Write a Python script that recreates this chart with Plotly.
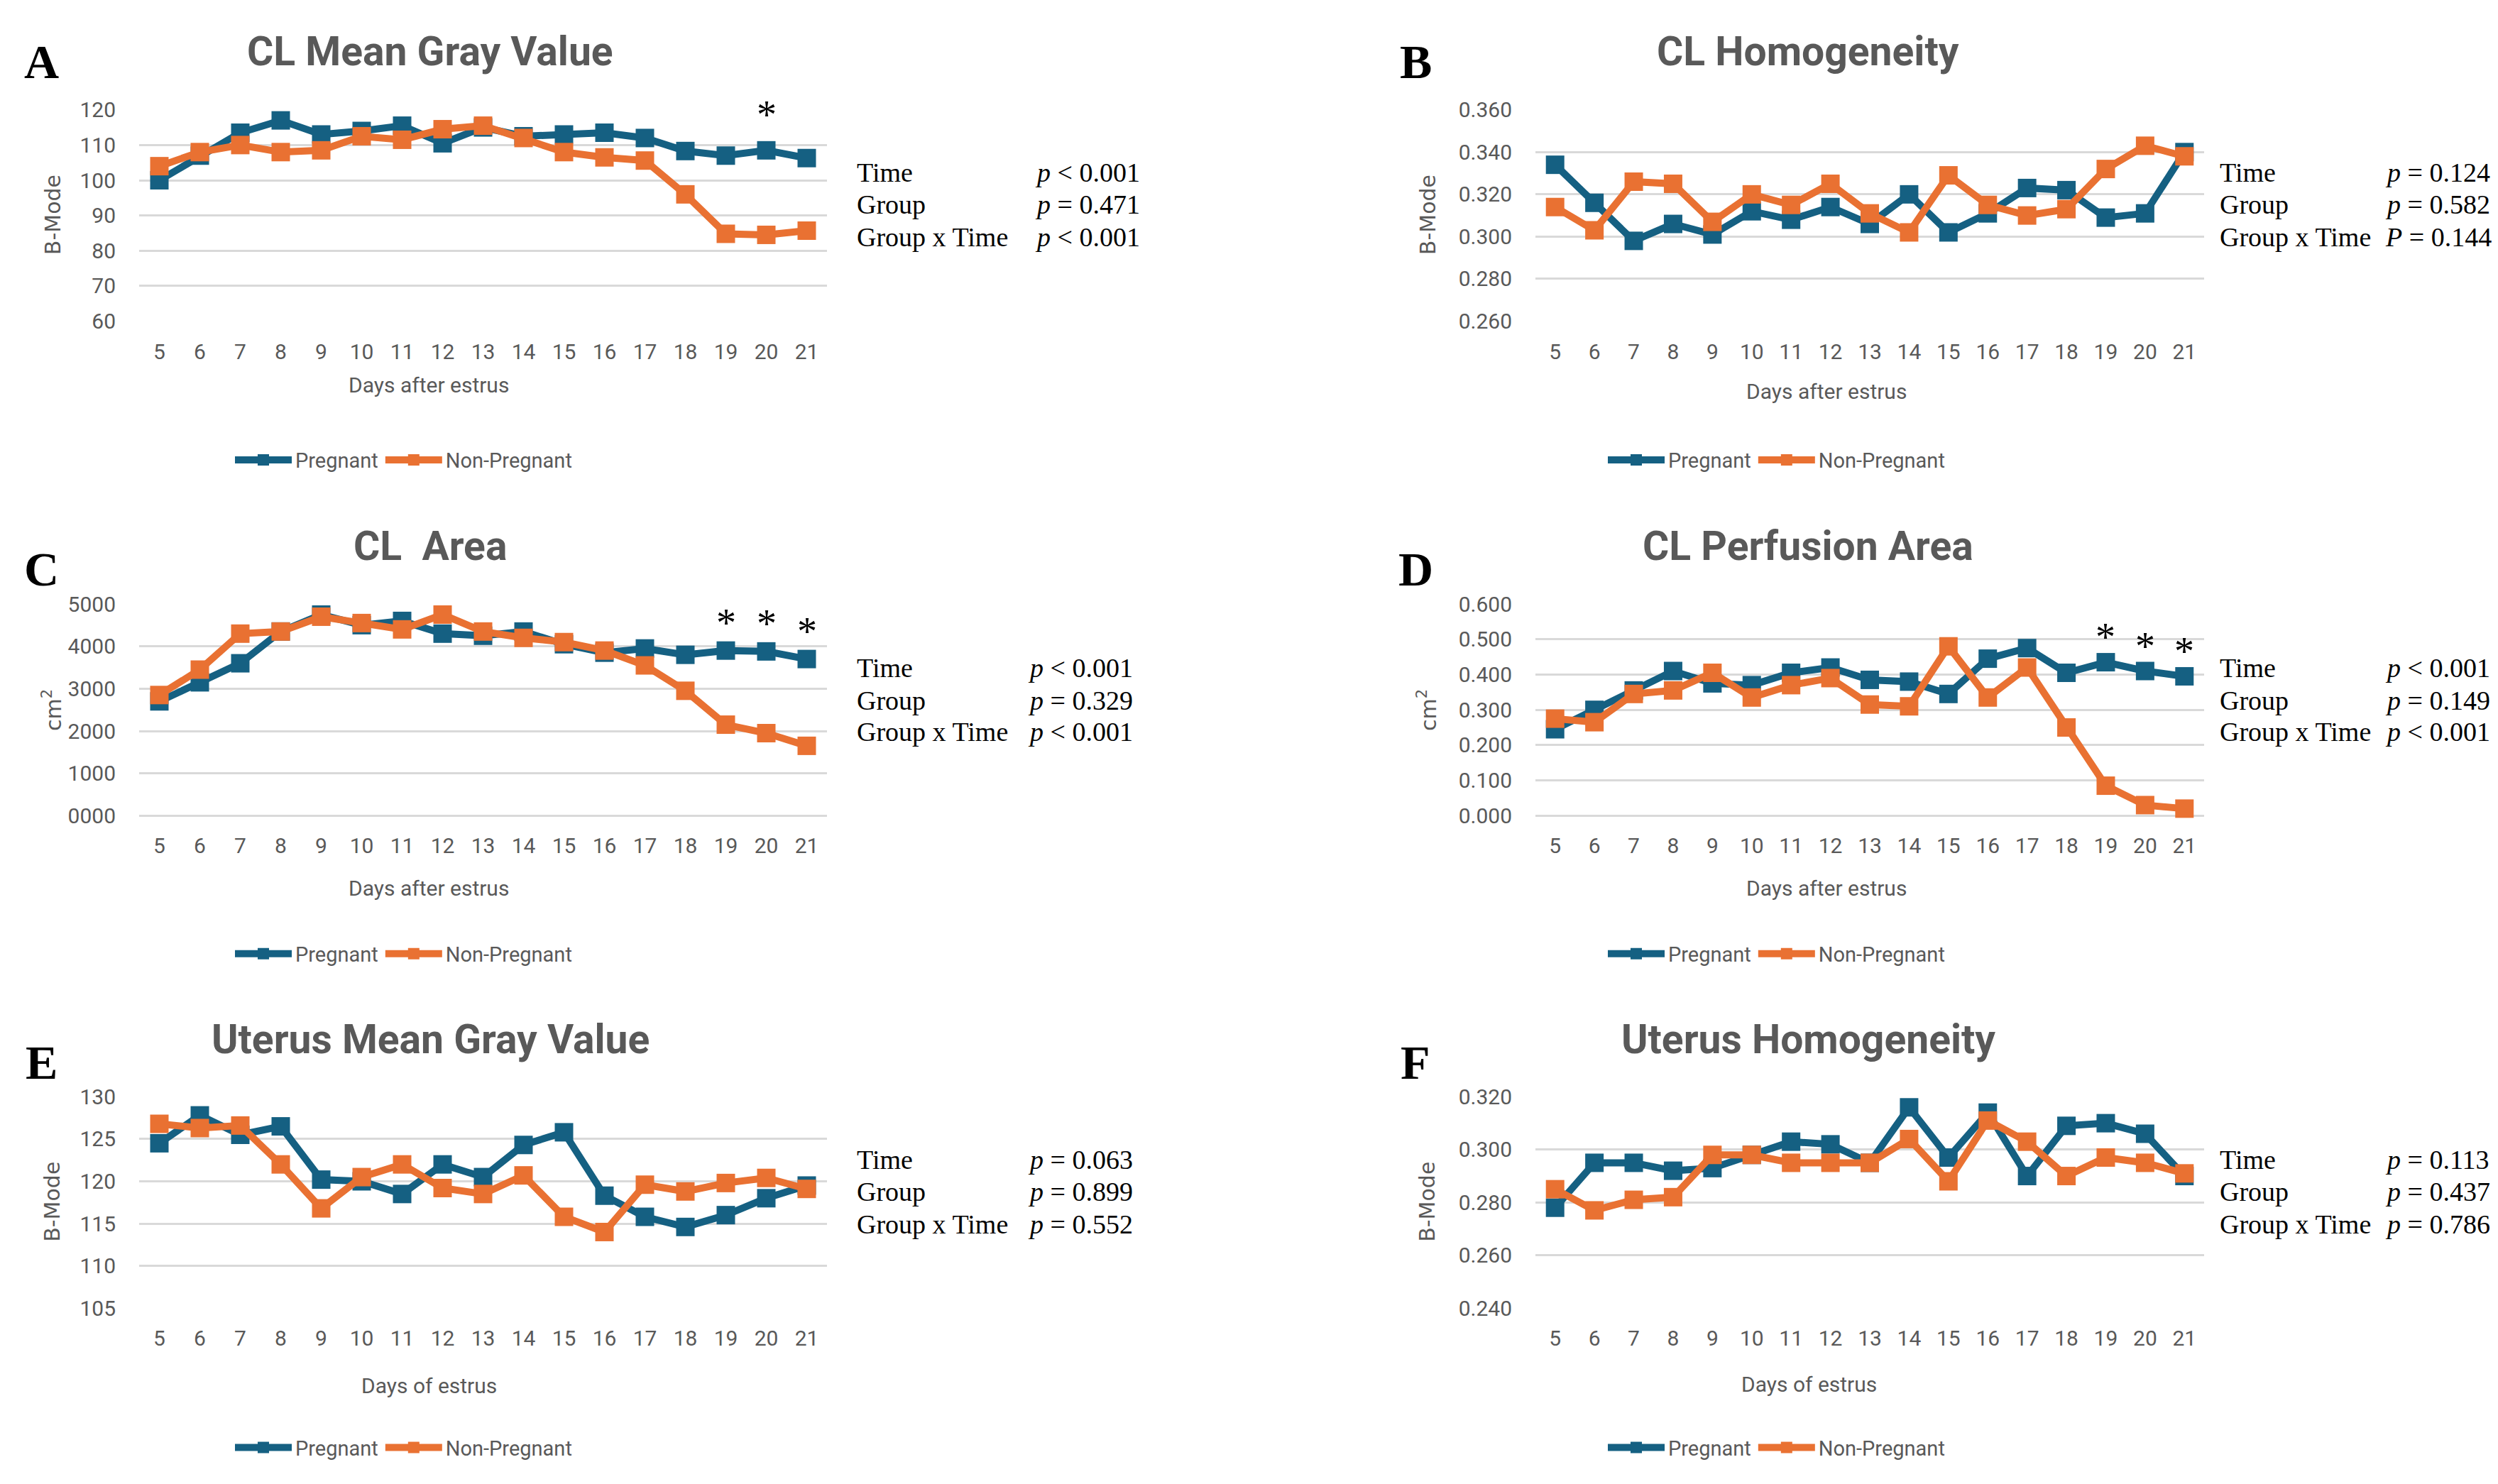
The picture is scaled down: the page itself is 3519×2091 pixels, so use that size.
import plotly.graph_objects as go

W, H = 3519, 2091

# ---------------- data ----------------
days = list(range(5, 22))
day_labels = [str(d) for d in days]

series_names = ["Pregnant", "Non-Pregnant"]

a_preg = [100.0, 107.0, 113.5, 117.0, 113.0, 114.0, 115.5, 110.5, 115.0, 112.5, 113.0, 113.5, 112.0, 108.3, 107.0, 108.5, 106.3]
a_nonp = [104.0, 108.0, 110.0, 108.0, 108.5, 112.5, 111.5, 114.5, 115.5, 112.0, 108.0, 106.5, 105.6, 96.0, 84.8, 84.5, 85.7]

b_preg = [0.334, 0.316, 0.298, 0.306, 0.301, 0.312, 0.308, 0.314, 0.306, 0.320, 0.302, 0.311, 0.323, 0.322, 0.309, 0.311, 0.340]
b_nonp = [0.314, 0.303, 0.326, 0.325, 0.307, 0.320, 0.315, 0.325, 0.311, 0.302, 0.329, 0.315, 0.310, 0.313, 0.332, 0.343, 0.338]

c_preg = [2700, 3150, 3600, 4350, 4750, 4500, 4600, 4300, 4250, 4350, 4050, 3850, 3950, 3800, 3900, 3880, 3700]
c_nonp = [2850, 3450, 4300, 4350, 4700, 4550, 4400, 4750, 4350, 4200, 4100, 3900, 3550, 2950, 2150, 1950, 1650]

d_preg = [0.245, 0.300, 0.355, 0.410, 0.375, 0.370, 0.405, 0.420, 0.385, 0.380, 0.345, 0.445, 0.475, 0.405, 0.435, 0.410, 0.395]
d_nonp = [0.275, 0.265, 0.345, 0.355, 0.405, 0.335, 0.370, 0.390, 0.315, 0.310, 0.480, 0.335, 0.420, 0.250, 0.085, 0.030, 0.020]

e_preg = [124.5, 127.8, 125.5, 126.5, 120.2, 120.0, 118.5, 122.0, 120.5, 124.3, 125.8, 118.3, 115.8, 114.6, 116.0, 118.0, 119.5]
e_nonp = [126.8, 126.3, 126.6, 122.0, 116.8, 120.5, 122.0, 119.2, 118.5, 120.7, 115.8, 114.0, 119.6, 118.8, 119.8, 120.4, 119.1]

f_preg = [0.278, 0.295, 0.295, 0.292, 0.293, 0.298, 0.303, 0.302, 0.295, 0.316, 0.297, 0.314, 0.290, 0.309, 0.310, 0.306, 0.290]
f_nonp = [0.285, 0.277, 0.281, 0.282, 0.298, 0.298, 0.295, 0.295, 0.295, 0.304, 0.288, 0.311, 0.303, 0.290, 0.297, 0.295, 0.291]

titles = ["CL Mean Gray Value", "CL Homogeneity", "CL  Area",
          "CL Perfusion Area", "Uterus Mean Gray Value", "Uterus Homogeneity"]
letters = ["A", "B", "C", "D", "E", "F"]
y_titles = ["B-Mode", "B-Mode", "cm<sup>2</sup>", "cm<sup>2</sup>", "B-Mode", "B-Mode"]
x_titles = ["Days after estrus", "Days after estrus", "Days after estrus",
            "Days after estrus", "Days of estrus", "Days of estrus"]
stat_labels = ["Time", "Group", "Group x Time"]
stat_values = [
    ["<i>p</i> < 0.001", "<i>p</i> = 0.471", "<i>p</i> < 0.001"],
    ["<i>p</i> = 0.124", "<i>p</i> = 0.582", "<i>P</i> = 0.144"],
    ["<i>p</i> < 0.001", "<i>p</i> = 0.329", "<i>p</i> < 0.001"],
    ["<i>p</i> < 0.001", "<i>p</i> = 0.149", "<i>p</i> < 0.001"],
    ["<i>p</i> = 0.063", "<i>p</i> = 0.899", "<i>p</i> = 0.552"],
    ["<i>p</i> = 0.113", "<i>p</i> = 0.437", "<i>p</i> = 0.786"],
]
# significant days (asterisks) per panel
sig_days = [[20], [], [19, 20, 21], [19, 20, 21], [], []]

y_ranges = [[60, 120], [0.26, 0.36], [0, 5000], [0, 0.6], [105, 130], [0.24, 0.32]]
y_dticks = [10, 0.02, 1000, 0.1, 5, 0.02]
y_formats = ["d", ".3f", "04d", ".3f", "d", ".3f"]

preg_data = [a_preg, b_preg, c_preg, d_preg, e_preg, f_preg]
nonp_data = [a_nonp, b_nonp, c_nonp, d_nonp, e_nonp, f_nonp]

# ---------------- style / layout ----------------
BLUE = "#156082"
ORANGE = "#E97132"
GRAY_TXT = "#595959"
GRID = "#D9D9D9"
SANS = "Roboto, Arial, sans-serif"
SERIF = "Liberation Serif, Times New Roman, serif"


def px_x(p):
    return p / W


def px_y(p):
    return 1 - p / H


col_plot = [(188, 1157), (2155, 3097)]
row_plot = [(131, 434), (839.5, 1143), (1546, 1849)]
col_letter_x = [50, 1986]
row_letter_y = [62, 790, 1497]
col_title_x = [598, 2539]
row_title_y = [47, 757, 1464]
col_ytitle_x = [66, 2003]
row_ytitle_y = [282, 992, 1697]
col_xtitle_x = [596, 2565]
row_xtitle_y = [[526, 535], [1247, 1247], [1960, 1958]]
col_stat_lx = [1197, 3117]
col_stat_px = [[1448, 3350], [1438, 3350], [1438, 3350]]
row_stat_y = [[221, 267, 313], [931, 978, 1023], [1636, 1682, 1729]]
col_leg_x = [318, 2252]
row_leg_y = [633, 1341, 2049]
sig_offsets = [10, 0, 650, 0.07, 0, 0]

fig = go.Figure()
annotations = []
layout_axes = {}

for i in range(6):
    r, c = divmod(i, 2)
    n = i + 1
    xa = "x" if n == 1 else f"x{n}"
    ya = "y" if n == 1 else f"y{n}"
    xkey = "xaxis" if n == 1 else f"xaxis{n}"
    ykey = "yaxis" if n == 1 else f"yaxis{n}"
    leg = "legend" if n == 1 else f"legend{n}"

    for name, vals, color in [(series_names[0], preg_data[i], BLUE),
                              (series_names[1], nonp_data[i], ORANGE)]:
        fig.add_trace(go.Scatter(
            x=days, y=vals, name=name, mode="lines+markers",
            line=dict(color=color, width=10),
            marker=dict(symbol="square", size=26, color=color),
            xaxis=xa, yaxis=ya, legend=leg, cliponaxis=False,
        ))

    layout_axes[xkey] = dict(
        domain=[px_x(col_plot[c][0]), px_x(col_plot[c][1])],
        anchor=ya, range=[4.5, 21.5], tickmode="array",
        tickvals=days, ticktext=day_labels, showgrid=False,
        zeroline=False, showline=False, ticks="",
        ticklabelstandoff=22,
        tickfont=dict(family=SANS, size=30, color=GRAY_TXT),
    )
    layout_axes[ykey] = dict(
        domain=[px_y(row_plot[r][1]), px_y(row_plot[r][0])],
        anchor=xa, range=y_ranges[i], dtick=y_dticks[i], tick0=0,
        tickformat=y_formats[i], showgrid=True, gridcolor=GRID,
        gridwidth=3, zeroline=True, zerolinecolor=GRID, zerolinewidth=3,
        showline=False, ticks="", ticklabelstandoff=32,
        tickfont=dict(family=SANS, size=30, color=GRAY_TXT),
    )
    layout_axes[leg] = dict(
        x=px_x(col_leg_x[c]), y=px_y(row_leg_y[r]), xanchor="left",
        yanchor="middle", orientation="h", itemwidth=80,
        bgcolor="rgba(0,0,0,0)", itemsizing="trace",
        font=dict(family=SANS, size=29, color=GRAY_TXT),
    )

    # panel letter
    annotations.append(dict(
        text=f"<b>{letters[i]}</b>", xref="paper", yref="paper",
        x=px_x(col_letter_x[c]), y=px_y(row_letter_y[r]),
        xanchor="center", yanchor="middle", showarrow=False,
        font=dict(family=SERIF, size=68, color="black")))
    # chart title
    annotations.append(dict(
        text=f"<b>{titles[i]}</b>", xref="paper", yref="paper",
        x=px_x(col_title_x[c]), y=px_y(row_title_y[r]),
        xanchor="center", yanchor="middle", showarrow=False,
        font=dict(family=SANS, size=57, color=GRAY_TXT)))
    # y-axis title
    annotations.append(dict(
        text=y_titles[i], xref="paper", yref="paper", textangle=-90,
        x=px_x(col_ytitle_x[c]), y=px_y(row_ytitle_y[r]),
        xanchor="center", yanchor="middle", showarrow=False,
        font=dict(family="DejaVu Sans, sans-serif", size=30, color=GRAY_TXT)))
    # x-axis title
    annotations.append(dict(
        text=x_titles[i], xref="paper", yref="paper",
        x=px_x(col_xtitle_x[c] - (25 if (r == 2 and c == 1) else 0)),
        y=px_y(row_xtitle_y[r][c]),
        xanchor="center", yanchor="middle", showarrow=False,
        font=dict(family=SANS, size=30, color=GRAY_TXT)))
    # statistics
    for k in range(3):
        annotations.append(dict(
            text=stat_labels[k], xref="paper", yref="paper",
            x=px_x(col_stat_lx[c]), y=px_y(row_stat_y[r][k]),
            xanchor="left", yanchor="middle", showarrow=False,
            font=dict(family=SERIF, size=38, color="black")))
        annotations.append(dict(
            text=stat_values[i][k], xref="paper", yref="paper",
            x=px_x(col_stat_px[r][c]), y=px_y(row_stat_y[r][k]),
            xanchor="left", yanchor="middle", showarrow=False,
            font=dict(family=SERIF, size=38, color="black")))
    # significance asterisks
    for d in sig_days[i]:
        yv = preg_data[i][days.index(d)] + sig_offsets[i]
        annotations.append(dict(
            text="*", xref=xa, yref=ya, x=d, y=yv,
            xanchor="center", yanchor="middle", showarrow=False,
            font=dict(family=SERIF, size=56, color="black")))

fig.update_layout(
    width=W, height=H, margin=dict(l=0, r=0, t=0, b=0),
    paper_bgcolor="white", plot_bgcolor="white",
    annotations=annotations, showlegend=True,
    **layout_axes,
)

fig.write_html("out.html")
